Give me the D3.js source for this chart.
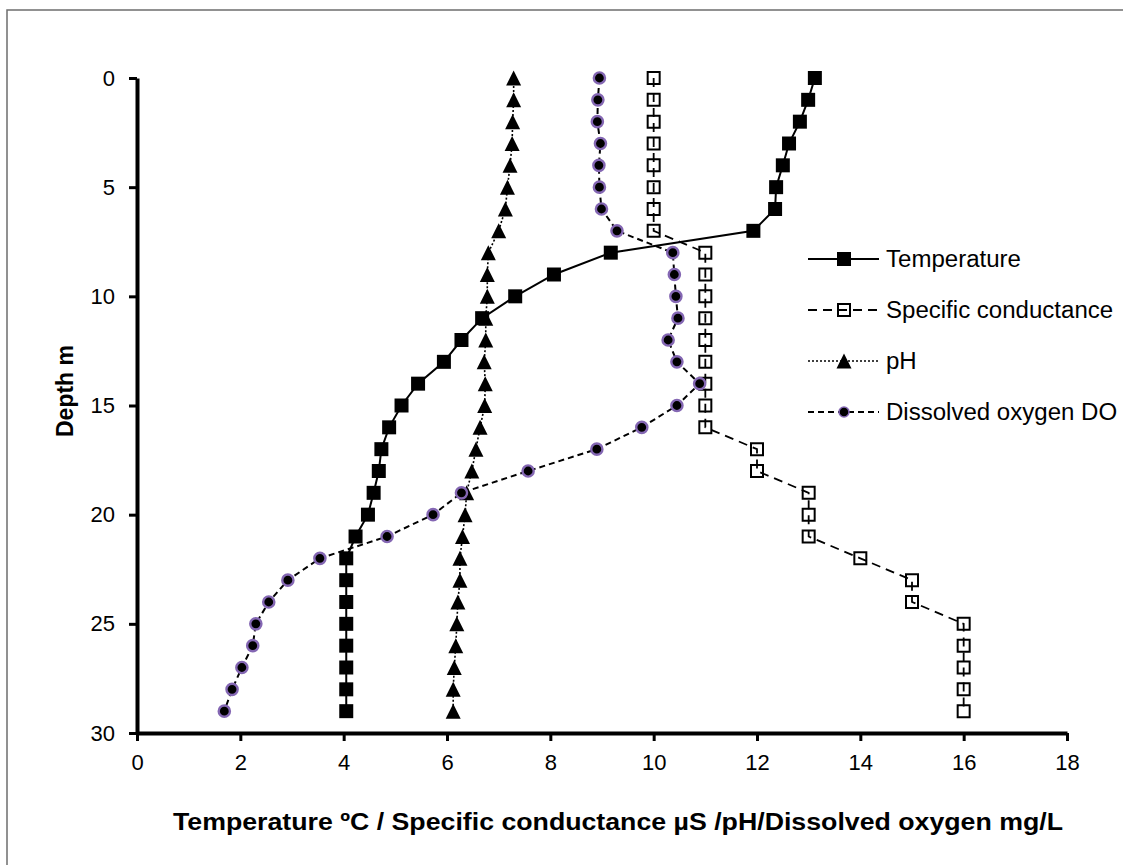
<!DOCTYPE html>
<html>
<head>
<meta charset="utf-8">
<script src="https://cdn.jsdelivr.net/npm/d3@7"></script>
<style>
  body { margin: 0; background: #fff; }
  svg { display: block; font-family: 'Liberation Sans', Arial, sans-serif; }
</style>
</head>
<body>
<svg id="chart" width="1123" height="865"></svg>
<script>
// depth profile, one reading per metre
const depth = d3.range(0, 30);

const temperature = [13.12, 12.99, 12.83, 12.62, 12.5, 12.37, 12.35, 11.93, 9.17, 8.07,
  7.32, 6.68, 6.28, 5.94, 5.44, 5.12, 4.88, 4.73, 4.68, 4.58,
  4.47, 4.23, 4.05, 4.05, 4.05, 4.05, 4.05, 4.05, 4.05, 4.05];

const conductance = [10, 10, 10, 10, 10, 10, 10, 10, 11, 11,
  11, 11, 11, 11, 11, 11, 11, 12, 12, 13,
  13, 13, 14, 15, 15, 16, 16, 16, 16, 16];

const ph = [7.29, 7.29, 7.27, 7.26, 7.22, 7.17, 7.13, 7.0, 6.8, 6.78,
  6.78, 6.75, 6.75, 6.72, 6.74, 6.73, 6.64, 6.56, 6.48, 6.38,
  6.35, 6.3, 6.25, 6.25, 6.21, 6.19, 6.17, 6.14, 6.12, 6.12];

const dissolvedOxygen = [8.95, 8.92, 8.91, 8.97, 8.94, 8.95, 8.99, 9.29, 10.37, 10.4,
  10.43, 10.47, 10.28, 10.45, 10.89, 10.45, 9.77, 8.9, 7.57, 6.28,
  5.73, 4.84, 3.54, 2.92, 2.55, 2.3, 2.24, 2.03, 1.84, 1.69];

const seriesNames = ['Temperature', 'Specific conductance', 'pH', 'Dissolved oxygen DO'];
const xTicks = [0, 2, 4, 6, 8, 10, 12, 14, 16, 18];
const yTicks = [0, 5, 10, 15, 20, 25, 30];

const xTitle = 'Temperature ºC / Specific conductance µS /pH/Dissolved oxygen mg/L';
const yTitle = 'Depth m';

function squareMarker(size) {
  return d => `M${-size / 2},${-size / 2}h${size}v${size}h${-size}Z`;
}

function triangleMarker(w, h) {
  return () => `M0,${-h / 2}L${w / 2},${h / 2}L${-w / 2},${h / 2}Z`;
}

// the exported figure has slightly wide glyphs, stretch text a bit
function stretch(sel, k) {
  sel.each(function () {
    const w = this.getComputedTextLength();
    d3.select(this).attr('textLength', w * k).attr('lengthAdjust', 'spacingAndGlyphs');
  });
}

// marker + line look per series, same order as seriesNames
const styles = [
  { values: temperature, dash: null, width: 2, marker: squareMarker(14), fill: '#000', stroke: 'none', sw: 0 },
  { values: conductance, dash: '9,6', width: 1.8, marker: squareMarker(12), fill: 'none', stroke: '#000', sw: 2 },
  { values: ph, dash: '2,2', width: 1.6, marker: triangleMarker(15, 15), fill: '#000', stroke: 'none', sw: 0 },
  { values: dissolvedOxygen, dash: '6,4', width: 2, marker: 'circle', fill: '#000', stroke: '#8467b3', sw: 2.4 }
];

function drawChart(containerId) {
  const svg = d3.select(containerId);

  // outer frame of the exported figure
  svg.append('rect')
    .attr('x', 7).attr('y', 10)
    .attr('width', 1300).attr('height', 1000)
    .attr('fill', 'none')
    .attr('stroke', '#6e6e6e')
    .attr('stroke-width', 1.5);

  const x = d3.scaleLinear().domain([0, 18]).range([137, 1067]);
  const y = d3.scaleLinear().domain([0, 30]).range([78, 733]);

  const xAxis = svg.append('g')
    .attr('transform', `translate(0,${y(30)})`)
    .call(d3.axisBottom(x).tickValues(xTicks).tickSize(8).tickSizeOuter(0).tickPadding(13));

  const yAxis = svg.append('g')
    .attr('transform', `translate(${x(0)},0)`)
    .call(d3.axisLeft(y).tickValues(yTicks).tickSize(8).tickSizeOuter(0).tickPadding(14));

  [xAxis, yAxis].forEach(ax => {
    ax.select('.domain').attr('stroke-width', 4);
    ax.selectAll('.tick line').attr('stroke-width', 3);
    ax.selectAll('.tick text')
      .attr('font-size', 22)
      .attr('font-family', "'Liberation Sans', Arial, sans-serif")
      .attr('fill', '#000');
  });

  svg.append('text')
    .attr('x', 618)
    .attr('y', 830)
    .attr('text-anchor', 'middle')
    .attr('font-size', 23.5)
    .attr('font-weight', 'bold')
    .attr('textLength', 890)
    .attr('lengthAdjust', 'spacingAndGlyphs')
    .text(xTitle);

  svg.append('text')
    .attr('transform', 'translate(73,391) rotate(-90)')
    .attr('text-anchor', 'middle')
    .attr('font-size', 23)
    .attr('font-weight', 'bold')
    .text(yTitle);

  const plot = svg.append('g');

  styles.forEach((s, i) => {
    const pts = depth.map((d, k) => ({ depth: d, value: s.values[k] }));
    const line = d3.line()
      .x(d => x(d.value))
      .y(d => y(d.depth));

    const g = plot.append('g').attr('class', `series-${i}`);

    g.append('path')
      .datum(pts)
      .attr('fill', 'none')
      .attr('stroke', '#000')
      .attr('stroke-width', s.width)
      .attr('stroke-dasharray', s.dash)
      .attr('d', line);

    if (s.marker === 'circle') {
      g.selectAll('circle')
        .data(pts)
        .enter().append('circle')
        .attr('cx', d => x(d.value))
        .attr('cy', d => y(d.depth))
        .attr('r', 5.6)
        .attr('fill', s.fill)
        .attr('stroke', s.stroke)
        .attr('stroke-width', s.sw);
    } else {
      g.selectAll('.mark')
        .data(pts)
        .enter().append('path')
        .attr('class', 'mark')
        .attr('transform', d => `translate(${x(d.value)},${y(d.depth)})`)
        .attr('d', s.marker)
        .attr('fill', s.fill)
        .attr('stroke', s.stroke)
        .attr('stroke-width', s.sw);
    }
  });

  // legend on the right
  const legend = svg.append('g').attr('transform', 'translate(808,259)');
  seriesNames.forEach((name, i) => {
    const s = styles[i];
    const row = legend.append('g').attr('transform', `translate(0,${i * 51})`);
    row.append('line')
      .attr('x1', 0).attr('x2', 71)
      .attr('y1', 0).attr('y2', 0)
      .attr('stroke', '#000')
      .attr('stroke-width', s.width)
      .attr('stroke-dasharray', s.dash);
    if (s.marker === 'circle') {
      row.append('circle')
        .attr('cx', 36).attr('cy', 0).attr('r', 5)
        .attr('fill', s.fill)
        .attr('stroke', s.stroke)
        .attr('stroke-width', 1.5);
    } else {
      row.append('path')
        .attr('transform', 'translate(36,0)')
        .attr('d', s.marker())
        .attr('fill', s.fill)
        .attr('stroke', s.stroke)
        .attr('stroke-width', s.sw);
    }
    row.append('text')
      .attr('x', 78)
      .attr('dy', '0.35em')
      .attr('font-size', 23)
      .text(name)
      .call(stretch, 1.045);
  });
}

drawChart('#chart');
</script>
</body>
</html>
